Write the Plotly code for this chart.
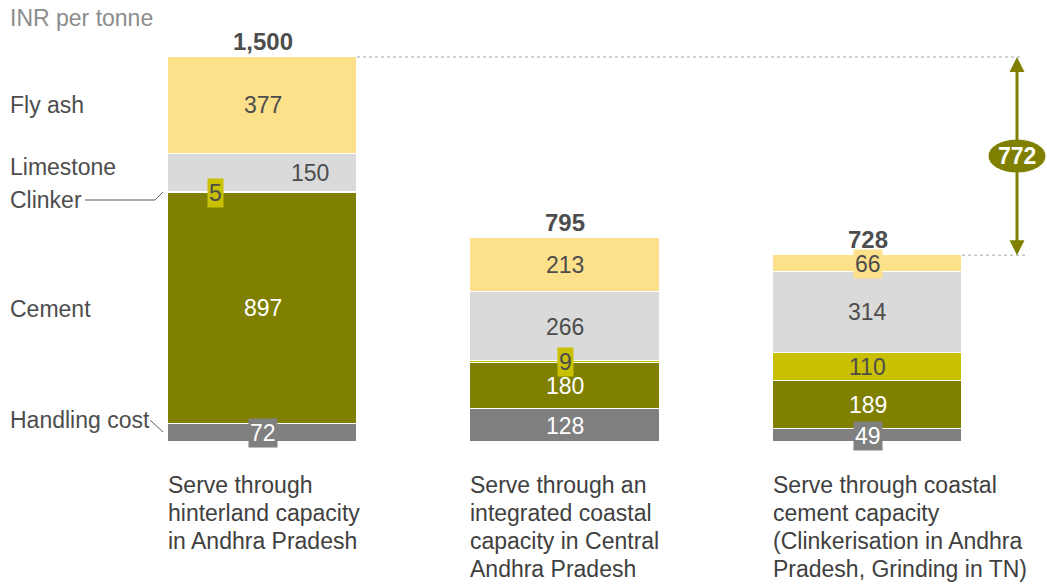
import plotly.graph_objects as go

categories = ["Serve through<br>hinterland capacity<br>in Andhra Pradesh",
              "Serve through an<br>integrated coastal<br>capacity in Central<br>Andhra Pradesh",
              "Serve through coastal<br>cement capacity<br>(Clinkerisation in Andhra<br>Pradesh, Grinding in TN)"]
handling = [72, 128, 49]
cement = [897, 180, 189]
clinker = [5, 9, 110]
limestone = [150, 266, 314]
fly_ash = [377, 213, 66]
totals = [1500, 795, 728]
totals_text = ["1,500", "795", "728"]
gap_value = 772

FONT = "Liberation Sans, Arial"
series = [
    ("Handling cost", handling, "#808080", "white"),
    ("Cement", cement, "#808000", "white"),
    ("Clinker", clinker, "#C8C000", "#4d4d4d"),
    ("Limestone", limestone, "#DADADA", "#4d4d4d"),
    ("Fly ash", fly_ash, "#FCE08A", "#4d4d4d"),
]
label_dx = {("Clinker", 0): -0.157, ("Limestone", 0): 0.157}

W, H = 1047, 584
px_per_x = 302.5
x0_px = 262.5
y0_px = 442
px_per_y = 385 / 1500.0
xr = [-x0_px / px_per_x, (W - x0_px) / px_per_x]
yr = [-(H - y0_px) / px_per_y, y0_px / px_per_y]


def dx(px):
    return (px - x0_px) / px_per_x


def dy(py):
    return (y0_px - py) / px_per_y


xs = [0, 1, 2]
BW = 0.625
fig = go.Figure()
annotations = []
cum = [0, 0, 0]
for name, vals, color, tcol in series:
    fig.add_trace(go.Bar(x=xs, y=vals, name=name, width=BW,
                         marker=dict(color=color, line=dict(color="white", width=1.5)),
                         hoverinfo="skip", showlegend=False))
    for i, v in enumerate(vals):
        mid = cum[i] + v / 2
        small = v < 95
        annotations.append(dict(
            x=i + label_dx.get((name, i), 0), y=mid, xref="x", yref="y",
            text=str(v), showarrow=False,
            font=dict(family=FONT, size=23, color=tcol),
            bgcolor=color if small else None, borderpad=1 if small else 0,
        ))
        cum[i] += v

for i, t in enumerate(totals):
    annotations.append(dict(x=i, y=t, xref="x", yref="y", text="<b>%s</b>" % totals_text[i],
                            showarrow=False, yanchor="bottom", yshift=0,
                            font=dict(family=FONT, size=24, color="#4d4d4d")))

for i, c in enumerate(categories):
    for k, line in enumerate(c.split("<br>")):
        annotations.append(dict(x=i - BW / 2, y=dy(485 + 28 * k), xref="x", yref="y", text=line,
                                showarrow=False, xanchor="left", yanchor="middle", align="left",
                                xshift=-2,
                                font=dict(family=FONT, size=23, color="#404040")))

left_labels = [("Fly ash", 105), ("Limestone", 167), ("Clinker", 200), ("Cement", 309), ("Handling cost", 420)]
for txt, py in left_labels:
    annotations.append(dict(x=dx(10), y=dy(py), xref="x", yref="y", text=txt, showarrow=False,
                            xanchor="left", yanchor="middle", xshift=-2,
                            font=dict(family=FONT, size=23, color="#4d4d4d")))

annotations.append(dict(x=dx(10), y=dy(18), xref="x", yref="y", text="INR per tonne", showarrow=False,
                        xanchor="left", yanchor="middle", xshift=-2,
                        font=dict(family=FONT, size=23, color="#8c8c8c")))

arrow_x = dx(1017)
shapes = []
shapes.append(dict(type="line", xref="x", yref="y", x0=BW / 2, x1=dx(1021), y0=totals[0], y1=totals[0],
                   line=dict(color="#a6a6a6", width=1, dash="dot")))
shapes.append(dict(type="line", xref="x", yref="y", x0=2 + BW / 2, x1=dx(1026), y0=totals[2], y1=totals[2],
                   line=dict(color="#a6a6a6", width=1, dash="dot")))
shapes.append(dict(type="path", xref="x", yref="y",
                   path="M %f,%f L %f,%f L %f,%f" % (dx(85), dy(200), dx(155), dy(200), dx(163), dy(192)),
                   line=dict(color="#595959", width=1)))
shapes.append(dict(type="line", xref="x", yref="y", x0=dx(150), y0=dy(420), x1=dx(163), y1=dy(432),
                   line=dict(color="#595959", width=1)))

mid = (totals[0] + totals[2]) / 2
annotations.append(dict(x=arrow_x, y=totals[0], ax=arrow_x, ay=mid, xref="x", yref="y", axref="x", ayref="y",
                        showarrow=True, arrowhead=2, arrowsize=1, arrowwidth=3, arrowcolor="#808000", text=""))
annotations.append(dict(x=arrow_x, y=totals[2], ax=arrow_x, ay=mid, xref="x", yref="y", axref="x", ayref="y",
                        showarrow=True, arrowhead=2, arrowsize=1, arrowwidth=3, arrowcolor="#808000", text=""))
shapes.append(dict(type="circle", xref="x", yref="y", xsizemode="pixel", ysizemode="pixel",
                   xanchor=arrow_x, yanchor=mid, x0=-29, x1=29, y0=-17, y1=17,
                   fillcolor="#808000", line=dict(color="white", width=1), layer="above"))
annotations.append(dict(x=arrow_x, y=mid, xref="x", yref="y", text="<b>%d</b>" % gap_value, showarrow=False,
                        font=dict(family=FONT, size=23, color="white")))

fig.update_layout(
    barmode="stack", bargap=0,
    width=W, height=H, margin=dict(l=0, r=0, t=0, b=0),
    paper_bgcolor="white", plot_bgcolor="white",
    xaxis=dict(range=xr, visible=False, fixedrange=True),
    yaxis=dict(range=yr, visible=False, fixedrange=True),
    annotations=annotations, shapes=shapes, showlegend=False,
)
fig.write_html("out.html", config={"displayModeBar": False},
               post_script="document.body.style.margin='0';document.body.style.overflow='hidden';")
